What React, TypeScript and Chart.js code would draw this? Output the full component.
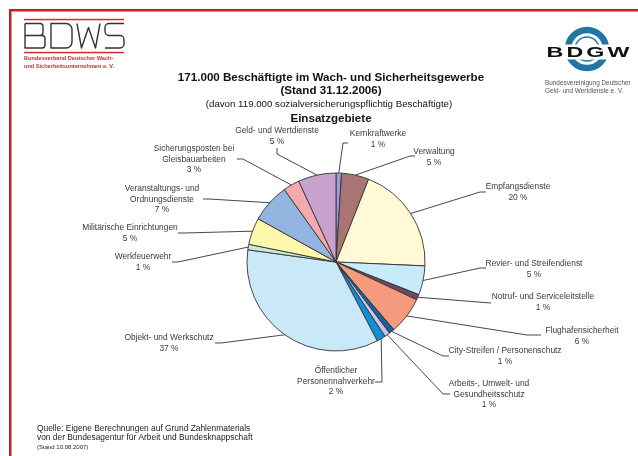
import React, { useEffect, useRef } from "react";
import { Chart, registerables } from "chart.js";
Chart.register(...registerables);

// ---- data ----
const categories: string[][] = [
  ["Kernkraftwerke"],
  ["Verwaltung"],
  ["Empfangsdienste"],
  ["Revier- und Streifendienst"],
  ["Notruf- und Serviceleitstelle"],
  ["Flughafensicherheit"],
  ["City-Streifen / Personenschutz"],
  ["Arbeits-, Umwelt- und", "Gesundheitsschutz"],
  ["Öffentlicher", "Personennahverkehr"],
  ["Objekt- und Werkschutz"],
  ["Werkfeuerwehr"],
  ["Militärische Einrichtungen"],
  ["Veranstaltungs- und", "Ordnungsdienste"],
  ["Sicherungsposten bei", "Gleisbauarbeiten"],
  ["Geld- und Wertdienste"],
];
const percentLabels = [1, 5, 20, 5, 1, 6, 1, 1, 2, 37, 1, 5, 7, 3, 5];
const shares = [1.0, 5.0, 19.8, 5.3, 1.0, 6.8, 1.0, 1.0, 1.6, 35.0, 1.0, 4.9, 7.1, 3.0, 6.9];
const sliceColors = [
  "#9d9de0", "#a87474", "#fff9d6", "#c9eaf8", "#6f4868", "#f59b7d", "#1b5f9f",
  "#c9c4e4", "#0f8fd6", "#c9e8f8", "#c9e9d6", "#fff7aa", "#94b4e0", "#f4a9ad", "#c9a1cd",
];
const titleLines = ["171.000 Beschäftigte im Wach- und Sicherheitsgewerbe", "(Stand 31.12.2006)"];
const subtitleText = "(davon 119.000 sozialversicherungspflichtig Beschäftigte)";
const sectionTitle = "Einsatzgebiete";
const sourceLines = [
  "Quelle: Eigene Berechnungen auf Grund Zahlenmaterials",
  "von der Bundesagentur für Arbeit und Bundesknappschaft",
];
const sourceDate = "(Stand 10.08.2007)";
const bdwsName = ["Bundesverband Deutscher Wach-", "und Sicherheitsunternehmen e. V."];
const bdgwName = ["Bundesvereinigung Deutscher", "Geld- und Wertdienste e. V."];

// ---- label layout (text centre x, first line y, leader elbow points) ----
const labelLayout: { tx: number; ty: number; path: number[][] }[] = [
  { tx: 378, ty: 134, path: [[348, 143], [343, 143]] },
  { tx: 434, ty: 152, path: [[415, 156], [410, 156]] },
  { tx: 518, ty: 187, path: [[486, 192], [480, 192]] },
  { tx: 534, ty: 264, path: [[486, 268], [480, 268]] },
  { tx: 543, ty: 297, path: [[491, 303]] },
  { tx: 582, ty: 331, path: [[541, 335], [527, 335]] },
  { tx: 505, ty: 351, path: [[449, 356], [443, 356]] },
  { tx: 489, ty: 384, path: [[450, 394], [443, 394]] },
  { tx: 336, ty: 371, path: [[375, 382], [382, 382]] },
  { tx: 169, ty: 338, path: [[215, 343], [221, 343]] },
  { tx: 143, ty: 257, path: [[172, 262], [178, 262]] },
  { tx: 130, ty: 228, path: [[178, 233], [184, 233]] },
  { tx: 162, ty: 189, path: [[203, 199], [209, 199]] },
  { tx: 194, ty: 149, path: [[237, 159], [243, 159]] },
  { tx: 277, ty: 131, path: [[277, 148], [277, 154]] },
];

const FONT = '"Liberation Sans", Arial, Helvetica, sans-serif';

function drawBDWS(ctx: CanvasRenderingContext2D) {
  ctx.save();
  ctx.fillStyle = "#d42a30";
  ctx.fillRect(24, 18.8, 100, 1.5);
  ctx.fillRect(24, 51.8, 100, 1.5);
  ctx.strokeStyle = "#333";
  ctx.lineWidth = 1.4;
  ctx.lineJoin = "round";
  const t = 23.5, b = 48, m = 35.5;
  // B
  ctx.beginPath();
  ctx.moveTo(25, t);
  ctx.lineTo(25, b);
  ctx.lineTo(42, b);
  ctx.arcTo(45, b, 45, b - 3, 3);
  ctx.lineTo(45, m + 3);
  ctx.arcTo(45, m, 42, m, 3);
  ctx.lineTo(25, m);
  ctx.moveTo(25, t);
  ctx.lineTo(40, t);
  ctx.arcTo(43, t, 43, t + 3, 3);
  ctx.lineTo(43, m - 3);
  ctx.arcTo(43, m, 40, m, 3);
  ctx.stroke();
  // D
  ctx.beginPath();
  ctx.moveTo(51, t);
  ctx.lineTo(51, b);
  ctx.lineTo(66, b);
  ctx.arcTo(72, b, 72, b - 6, 6);
  ctx.lineTo(72, t + 6);
  ctx.arcTo(72, t, 66, t, 6);
  ctx.closePath();
  ctx.stroke();
  // W
  ctx.beginPath();
  ctx.moveTo(77, t);
  ctx.lineTo(81.5, b);
  ctx.lineTo(88.5, t + 4);
  ctx.lineTo(95.5, b);
  ctx.lineTo(100, t);
  ctx.stroke();
  // S
  ctx.beginPath();
  ctx.moveTo(124, t);
  ctx.lineTo(109, t);
  ctx.arcTo(105, t, 105, t + 4, 4);
  ctx.lineTo(105, m - 4);
  ctx.arcTo(105, m, 109, m, 4);
  ctx.lineTo(120, m);
  ctx.arcTo(124, m, 124, m + 4, 4);
  ctx.lineTo(124, b - 4);
  ctx.arcTo(124, b, 120, b, 4);
  ctx.lineTo(105, b);
  ctx.stroke();
  ctx.fillStyle = "#d42a30";
  ctx.font = `bold 5.6px ${FONT}`;
  ctx.textAlign = "left";
  ctx.textBaseline = "middle";
  ctx.fillText(bdwsName[0], 24, 58.5);
  ctx.fillText(bdwsName[1], 24, 66.5);
  ctx.restore();
}

function drawBDGW(ctx: CanvasRenderingContext2D) {
  ctx.save();
  const cx = 587, cy = 49;
  ctx.strokeStyle = "#1f76a6";
  ctx.lineWidth = 6.5;
  ctx.beginPath();
  ctx.arc(cx, cy, 19, 0, Math.PI * 2);
  ctx.stroke();
  ctx.lineWidth = 1.5;
  ctx.beginPath();
  ctx.arc(cx, cy, 12, 0, Math.PI * 2);
  ctx.stroke();
  ctx.fillStyle = "#fff";
  ctx.fillRect(541, 44.5, 94, 15);
  ctx.fillStyle = "#111";
  ctx.font = `bold 15px ${FONT}`;
  ctx.textAlign = "center";
  ctx.textBaseline = "middle";
  ctx.save();
  ctx.translate(588, 53);
  ctx.scale(1.55, 1);
  (ctx as any).letterSpacing = "2px";
  ctx.fillText("BDGW", 1, 0);
  ctx.restore();
  ctx.fillStyle = "#555";
  ctx.font = `6.4px ${FONT}`;
  ctx.textAlign = "left";
  ctx.fillText(bdgwName[0], 545, 83);
  ctx.fillText(bdgwName[1], 545, 91);
  ctx.restore();
}

const decorPlugin = {
  id: "decor",
  beforeDraw(chart: any) {
    const ctx: CanvasRenderingContext2D = chart.ctx;
    ctx.save();
    ctx.fillStyle = "#fff";
    ctx.fillRect(0, 0, chart.width, chart.height);
    ctx.restore();
  },
  afterDatasetsDraw(chart: any) {
    const ctx: CanvasRenderingContext2D = chart.ctx;
    ctx.save();
    // frame
    ctx.fillStyle = "#c71c24";
    ctx.fillRect(9, 9, 629, 2.5);
    ctx.fillRect(9, 9, 2.5, 447);
    drawBDWS(ctx);
    drawBDGW(ctx);
    // titles
    ctx.fillStyle = "#111";
    ctx.textAlign = "center";
    ctx.textBaseline = "middle";
    ctx.font = `bold 11.6px ${FONT}`;
    ctx.fillText(titleLines[0], 331, 77.5);
    ctx.fillText(titleLines[1], 331, 91);
    ctx.font = `9.7px ${FONT}`;
    ctx.fillText(subtitleText, 329, 104.5);
    ctx.font = `bold 11.6px ${FONT}`;
    ctx.fillText(sectionTitle, 331, 118.5);
    // leader lines + labels
    const meta = chart.getDatasetMeta(0);
    ctx.strokeStyle = "#333";
    ctx.lineWidth = 0.9;
    ctx.fillStyle = "#3a3a3a";
    ctx.font = `8.4px ${FONT}`;
    meta.data.forEach((arc: any, i: number) => {
      const p = arc.getProps(["x", "y", "startAngle", "endAngle", "outerRadius"], true);
      const a = (p.startAngle + p.endAngle) / 2;
      const ex = p.x + Math.cos(a) * p.outerRadius;
      const ey = p.y + Math.sin(a) * p.outerRadius;
      const lay = labelLayout[i];
      ctx.beginPath();
      ctx.moveTo(lay.path[0][0], lay.path[0][1]);
      for (let k = 1; k < lay.path.length; k++) ctx.lineTo(lay.path[k][0], lay.path[k][1]);
      ctx.lineTo(ex, ey);
      ctx.stroke();
      const lines = [...categories[i], `${percentLabels[i]} %`];
      lines.forEach((ln, j) => ctx.fillText(ln, lay.tx, lay.ty + j * 10.3));
    });
    // source
    ctx.fillStyle = "#222";
    ctx.textAlign = "left";
    ctx.font = `8.4px ${FONT}`;
    ctx.fillText(sourceLines[0], 37, 429);
    ctx.fillText(sourceLines[1], 37, 438);
    ctx.font = `6px ${FONT}`;
    ctx.fillText(sourceDate, 37, 447);
    ctx.restore();
  },
};

export default function App() {
  const ref = useRef<HTMLCanvasElement>(null);
  useEffect(() => {
    document.body.style.margin = "0";
    const chart = new Chart(ref.current!, {
      type: "pie",
      data: {
        labels: categories.map((c) => c.join(" ")),
        datasets: [
          {
            data: shares,
            backgroundColor: sliceColors,
            borderColor: "#333",
            borderWidth: 0.9,
          },
        ],
      },
      options: {
        animation: false,
        responsive: false,
        devicePixelRatio: 1,
        radius: 89,
        layout: { padding: { left: 246, right: 212, top: 170, bottom: 102 } },
        plugins: { legend: { display: false }, tooltip: { enabled: false }, title: { display: false } },
      } as any,
      plugins: [decorPlugin],
    });
    return () => chart.destroy();
  }, []);
  return (
    <div style={{ width: 638, height: 456, position: "relative" }}>
      <canvas ref={ref} width={638} height={456} style={{ display: "block", width: 638, height: 456 }} />
    </div>
  );
}
